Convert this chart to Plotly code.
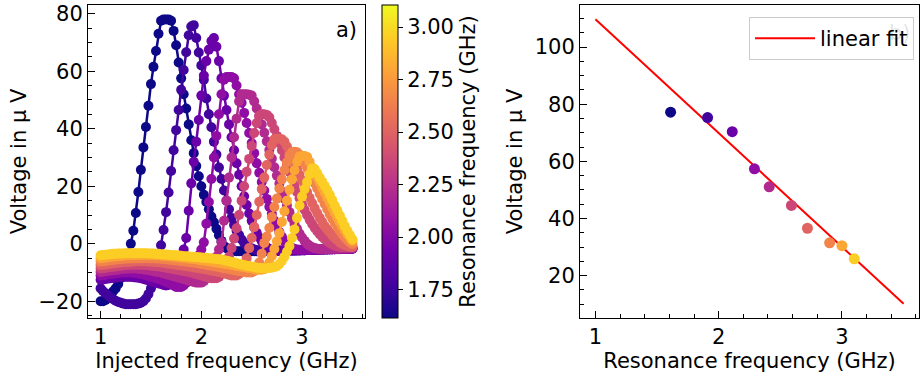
import plotly.graph_objects as go

# Injected-frequency sweep (GHz), 0.025 GHz steps
inj_freq = [1.000, 1.025, 1.050, 1.075, 1.100, 1.125, 1.150, 1.175, 1.200, 1.225,
            1.250, 1.275, 1.300, 1.325, 1.350, 1.375, 1.400, 1.425, 1.450, 1.475,
            1.500, 1.525, 1.550, 1.575, 1.600, 1.625, 1.650, 1.675, 1.700, 1.725,
            1.750, 1.775, 1.800, 1.825, 1.850, 1.875, 1.900, 1.925, 1.950, 1.975,
            2.000, 2.025, 2.050, 2.075, 2.100, 2.125, 2.150, 2.175, 2.200, 2.225,
            2.250, 2.275, 2.300, 2.325, 2.350, 2.375, 2.400, 2.425, 2.450, 2.475,
            2.500, 2.525, 2.550, 2.575, 2.600, 2.625, 2.650, 2.675, 2.700, 2.725,
            2.750, 2.775, 2.800, 2.825, 2.850, 2.875, 2.900, 2.925, 2.950, 2.975,
            3.000, 3.025, 3.050, 3.075, 3.100, 3.125, 3.150, 3.175, 3.200, 3.225,
            3.250, 3.275, 3.300, 3.325, 3.350, 3.375, 3.400, 3.425, 3.450, 3.475,
            3.500]

# Measured voltage (uV) for each resonance frequency
v_161 = [-20, -20, -19.5, -18.5, -17.5, -16.5, -15.5, -14, -12, -9.5,
         -6.5, -3.5, 0, 4.5, 10.7, 18, 25.7, 33.5, 40.6, 48,
         55.5, 61.5, 67, 73, 77.5, 78, 78, 78, 77.5, 74,
         69, 63, 57.5, 52, 47, 41.5, 36, 31.5, 27, 23.5,
         20, 17, 14.5, 12, 9.5, 7.5, 5.2, 3, 1, -0.8,
         -1.5, -2, -2.3, -2.5, -2.6, -2.6, -2.6, -2.6, -2.6, -2.6,
         -2.6, -2.6, -2.6, -2.6, -2.5, -2.5, -2.5, -2.5, -2.5, -2.5,
         -2.4, -2.4, -2.4, -2.4, -2.4, -2.3, -2.3, -2.3, -2.3, -2.3,
         -2.2, -2.2, -2.2, -2.2, -2.1, -2.1, -2.1, -2, -2, -2,
         -2, -1.9, -1.9, -1.9, -1.8, -1.8, -1.8, -1.7, -1.7, -1.7, -1.6]
v_191 = [-15.5, -16.5, -17.3, -18, -18.7, -19.3, -19.8, -20.2, -20.5, -20.8,
         -21, -21, -21, -21, -21, -20.8, -20.5, -20, -19, -17.5,
         -15.5, -13, -9.5, -5, -0.5, 4.8, 11, 17.8, 25.3, 32.5,
         39.5, 46.5, 53.5, 60.4, 66.6, 72.5, 75.5, 76, 71.5, 66.5,
         62, 57, 50.5, 45, 40.5, 35.5, 31, 26.5, 22.5, 18.5,
         15, 12, 9, 6.5, 4.5, 3, 1.5, 0.3, -0.6, -1.2,
         -1.6, -2, -2.2, -2.3, -2.4, -2.4, -2.4, -2.4, -2.4, -2.4,
         -2.3, -2.3, -2.3, -2.3, -2.3, -2.2, -2.2, -2.2, -2.2, -2.2,
         -2.1, -2.1, -2.1, -2.1, -2, -2, -2, -2, -1.9, -1.9,
         -1.9, -1.9, -1.8, -1.8, -1.8, -1.7, -1.7, -1.7, -1.6, -1.6, -1.6]
v_211 = [-12.5, -12.4, -12.2, -12.1, -12, -11.9, -11.8, -11.6, -11.5, -11.5,
         -11.5, -11.5, -11.5, -11.6, -11.7, -11.8, -12, -12.2, -12.5, -12.7,
         -13, -13.3, -13.5, -13.8, -14, -14.3, -14.5, -14.3, -14, -13,
         -11, -8, -5, -2, 2, 11.5, 21, 28.5, 35.5, 43,
         51.5, 58.5, 63.5, 67.5, 70.5, 71.5, 68.5, 63.5, 57.5, 51.5,
         46.5, 41.5, 37, 32.5, 28, 24, 20, 16.5, 13.5, 10.5,
         8, 5.7, 3.8, 2.2, 0.9, -0.3, -1.2, -1.8, -2.2, -2.4,
         -2.5, -2.5, -2.5, -2.5, -2.4, -2.4, -2.4, -2.4, -2.3, -2.3,
         -2.3, -2.3, -2.2, -2.2, -2.2, -2.2, -2.1, -2.1, -2.1, -2,
         -2, -2, -2, -1.9, -1.9, -1.9, -1.8, -1.8, -1.8, -1.7, -1.7]
v_229 = [-11, -10.9, -10.8, -10.6, -10.5, -10.4, -10.3, -10.2, -10, -10,
         -10, -10, -10, -10.1, -10.2, -10.3, -10.5, -10.7, -10.9, -11.2,
         -11.5, -11.7, -12, -12.2, -12.5, -12.9, -13.3, -13.6, -14, -14.5,
         -15, -15, -15, -14.5, -13.5, -12, -10, -8, -6, -4,
         -2, 0.5, 7, 14.5, 22.5, 30, 37.5, 45, 52, 57,
         58, 58, 58, 57.5, 55, 52, 49, 45.5, 42, 38.5,
         35, 31.5, 28, 24.7, 21.5, 18.5, 15.6, 12.9, 10.4, 8.1,
         6, 4.1, 2.4, 1, -0.1, -0.9, -1.4, -1.8, -2, -2.1,
         -2.1, -2.1, -2.1, -2.1, -2.1, -2, -2, -2, -2, -2,
         -1.9, -1.9, -1.9, -1.9, -1.8, -1.8, -1.8, -1.8, -1.7, -1.7, -1.7]
v_241 = [-9.8, -9.7, -9.5, -9.4, -9.3, -9.2, -9.1, -9, -8.8, -8.7,
         -8.7, -8.6, -8.6, -8.6, -8.6, -8.7, -8.8, -8.9, -9, -9.2,
         -9.3, -9.5, -9.7, -9.8, -10, -10.3, -10.5, -10.8, -11, -11.3,
         -11.5, -11.8, -12, -12.3, -12.5, -12.8, -13, -13.3, -13.5, -13.5,
         -13.5, -13, -12, -10.5, -8.5, -6.5, -4.5, -2, 0.5, 8,
         15, 23, 30, 37, 43.5, 49.5, 52, 52, 52, 51.8,
         51.5, 49.5, 47, 44.3, 41.5, 38.6, 35.6, 32.6, 29.6, 26.6,
         23.7, 20.9, 18.2, 15.7, 13.3, 11, 8.9, 7, 5.2, 3.6,
         2.2, 1, 0, -0.7, -1.2, -1.5, -1.7, -1.8, -1.8, -1.8,
         -1.8, -1.8, -1.7, -1.7, -1.7, -1.7, -1.6, -1.6, -1.6, -1.5, -1.5]
v_259 = [-8.6, -8.5, -8.3, -8.2, -8.1, -8, -7.9, -7.7, -7.6, -7.5,
         -7.4, -7.4, -7.3, -7.3, -7.3, -7.3, -7.3, -7.4, -7.4, -7.5,
         -7.6, -7.7, -7.8, -7.9, -8, -8.2, -8.3, -8.5, -8.6, -8.8,
         -9, -9.1, -9.3, -9.5, -9.6, -9.8, -10, -10.3, -10.5, -10.8,
         -11, -11.3, -11.5, -11.8, -12, -12, -12, -11.5, -10.5, -9,
         -7, -4.5, -1.5, 1.8, 5.4, 10, 15, 20, 25, 29.5,
         34, 38.5, 42, 44.5, 45, 45, 44.8, 44, 42, 39.8,
         37.5, 35, 32.5, 30, 27.5, 25, 22.6, 20.3, 18, 15.8,
         13.7, 11.8, 10, 8.4, 6.9, 5.6, 4.4, 3.3, 2.4, 1.6,
         0.9, 0.3, -0.2, -0.6, -0.9, -1.1, -1.2, -1.2, -1.2, -1.2, -1.2]
v_272 = [-7.4, -7.3, -7.2, -7, -6.9, -6.8, -6.7, -6.6, -6.5, -6.4,
         -6.3, -6.3, -6.2, -6.2, -6.1, -6.1, -6.1, -6.1, -6.1, -6.2,
         -6.2, -6.3, -6.3, -6.4, -6.5, -6.6, -6.8, -6.9, -7, -7.1,
         -7.3, -7.4, -7.5, -7.6, -7.8, -7.9, -8, -8.2, -8.3, -8.5,
         -8.6, -8.8, -8.9, -9.1, -9.3, -9.5, -9.6, -9.8, -10, -10.3,
         -10.5, -10.8, -11, -11, -11, -10.5, -9.5, -7.5, -5, -1.5,
         2, 5.8, 10, 14.6, 19, 23, 27.4, 31, 34.3, 36.3,
         36.5, 36.5, 36.3, 35.5, 33.8, 32, 30, 28, 26, 24,
         22, 20, 18, 16, 14.2, 12.4, 10.7, 9.1, 7.6, 6.2,
         5, 3.9, 2.9, 2, 1.2, 0.5, -0.1, -0.5, -0.8, -1, -1.1]
v_290 = [-6.2, -6.1, -6, -5.8, -5.7, -5.6, -5.5, -5.4, -5.3, -5.2,
         -5.2, -5.1, -5.1, -5.1, -5, -5, -5, -5, -5, -5,
         -5, -5, -5.1, -5.1, -5.2, -5.3, -5.4, -5.5, -5.6, -5.7,
         -5.8, -5.9, -6, -6.1, -6.2, -6.3, -6.4, -6.6, -6.7, -6.8,
         -7, -7.1, -7.3, -7.5, -7.6, -7.8, -7.9, -8.1, -8.3, -8.5,
         -8.6, -8.8, -9, -9.2, -9.3, -9.5, -9.6, -9.8, -10, -10,
         -10, -9.5, -8.5, -6.5, -3.5, 0.3, 2.5, 5.5, 9.3, 12.8,
         15.7, 19.2, 22.4, 25.6, 28.3, 30.7, 31.8, 32, 31.8, 31,
         29.5, 28, 26.3, 24.6, 22.8, 21, 19.2, 17.4, 15.6, 13.8,
         12, 10.3, 8.7, 7.2, 5.8, 4.5, 3.3, 2.2, 1.3, 0.5, -0.1]
v_300 = [-5, -4.9, -4.8, -4.6, -4.5, -4.4, -4.3, -4.2, -4.2, -4.1,
         -4.1, -4, -4, -4, -4, -3.9, -3.9, -3.9, -3.9, -3.9,
         -3.9, -3.9, -4, -4, -4.1, -4.2, -4.2, -4.3, -4.4, -4.5,
         -4.6, -4.7, -4.8, -4.9, -5, -5.1, -5.2, -5.3, -5.4, -5.6,
         -5.7, -5.8, -5.9, -6.1, -6.2, -6.3, -6.5, -6.6, -6.8, -6.9,
         -7.1, -7.2, -7.4, -7.5, -7.7, -7.8, -8, -8.1, -8.3, -8.4,
         -8.6, -8.8, -9, -9, -9, -8.8, -8, -6.5, -4.3, -1.8,
         0.9, 3.7, 7.6, 11.3, 15, 18.8, 22.4, 25.6, 28.5, 30.3,
         30.5, 30.5, 30.2, 28.5, 26.5, 24.8, 23, 21.3, 19.5, 17.8,
         16, 14.2, 12.5, 10.8, 9.1, 7.5, 6, 4.6, 3.3, 2.1, 1]
v_310 = [-4, -3.9, -3.8, -3.7, -3.6, -3.5, -3.5, -3.4, -3.4, -3.4,
         -3.3, -3.3, -3.3, -3.3, -3.3, -3.3, -3.3, -3.3, -3.3, -3.4,
         -3.4, -3.4, -3.5, -3.5, -3.6, -3.7, -3.7, -3.8, -3.9, -4,
         -4, -4.1, -4.2, -4.3, -4.3, -4.4, -4.5, -4.6, -4.6, -4.7,
         -4.8, -4.9, -4.9, -5, -5.1, -5.2, -5.3, -5.4, -5.5, -5.7,
         -5.9, -6.1, -6.3, -6.5, -6.8, -7, -7.2, -7.4, -7.6, -7.8,
         -7.9, -8.1, -8.3, -8.4, -8.5, -8.5, -8.5, -8.4, -8.3, -8.1,
         -7.8, -7, -6, -4.5, -2.8, -0.8, 2, 5, 9, 13.3,
         16.4, 19, 21.5, 24.2, 26.2, 26, 24.6, 23, 21.6, 20.2,
         18.7, 17, 15.2, 13.3, 11.6, 9.8, 8, 6.2, 4.5, 3, 1.6]

# Right panel: peak voltage vs resonance frequency, and the linear fit
res_freq = [1.61, 1.91, 2.11, 2.29, 2.41, 2.59, 2.72, 2.90, 3.00, 3.10]
peak_voltage = [77.2, 75.3, 70.4, 57.4, 51.1, 44.6, 36.6, 31.5, 30.5, 25.9]
fit_freq = [1.0, 3.5]
fit_voltage = [109.7, 10.2]

colorbar_ticks = [1.75, 2.00, 2.25, 2.50, 2.75, 3.00]

curves = [v_161, v_191, v_211, v_229, v_241, v_259, v_272, v_290, v_300, v_310]
colors = ["#0d0887", "#41049d", "#6a00a8", "#8f0da4", "#b12a90",
          "#cc4778", "#e16462", "#f2844b", "#fca636", "#fcce25"]

FONT = "DejaVu Sans"
FS = 21
W, H = 920, 378

def px_x(p):
    return p / W

def px_y(p):
    return 1 - p / H

fig = go.Figure()

for v, c in zip(curves, colors):
    fig.add_trace(go.Scatter(
        x=inj_freq, y=v, mode="lines+markers",
        line=dict(color=c, width=2.5),
        marker=dict(color=c, size=10, line=dict(width=0)),
        showlegend=False, hoverinfo="skip", xaxis="x", yaxis="y"))

# colour bar for resonance frequency
fig.add_trace(go.Scatter(
    x=[None], y=[None], mode="markers", showlegend=False, hoverinfo="skip",
    xaxis="x", yaxis="y",
    marker=dict(
        color=[res_freq[0]], colorscale="Plasma",
        cmin=1.615, cmax=3.105, showscale=True,
        colorbar=dict(
            x=px_x(382), xanchor="left", xpad=0,
            y=px_y(161.5), yanchor="middle", ypad=0,
            len=313 / H, lenmode="fraction",
            thickness=16, thicknessmode="pixels",
            outlinewidth=1, outlinecolor="black",
            tickvals=colorbar_ticks, tickformat=".2f",
            ticks="outside", ticklen=5, tickwidth=1, tickcolor="black",
            tickfont=dict(size=FS, family=FONT, color="black"),
            title=dict(text="Resonance frequency (GHz)", side="right",
                       font=dict(size=FS, family=FONT, color="black")),
        ))))

fig.add_trace(go.Scatter(
    x=fit_freq, y=fit_voltage, mode="lines", name="linear fit",
    line=dict(color="red", width=2), xaxis="x2", yaxis="y2", hoverinfo="skip"))

fig.add_trace(go.Scatter(
    x=res_freq, y=peak_voltage, mode="markers", showlegend=False,
    marker=dict(color=colors, size=11, line=dict(width=0)),
    xaxis="x2", yaxis="y2", hoverinfo="skip"))

axis_common = dict(
    showline=True, linecolor="black", linewidth=1, mirror=True,
    showgrid=False, zeroline=False, automargin=False,
    ticks="inside", ticklen=7, tickwidth=1, tickcolor="black",
    tickfont=dict(size=FS, family=FONT, color="black"),
)

ydom = [px_y(318), px_y(5)]

fig.update_layout(
    width=W, height=H,
    margin=dict(l=0, r=0, t=0, b=0, autoexpand=False),
    paper_bgcolor="white", plot_bgcolor="white",
    font=dict(family=FONT, size=FS, color="black"),
    xaxis=dict(domain=[px_x(88), px_x(365)], anchor="y", range=[0.875, 3.625],
               tickvals=[1, 2, 3],
               minor=dict(dtick=0.2, tick0=0, ticks="inside", ticklen=4, tickcolor="black"),
               title=dict(text="Injected frequency (GHz)", standoff=2,
                          font=dict(size=FS, family=FONT, color="black")),
               **axis_common),
    yaxis=dict(domain=ydom, anchor="x", range=[-25.8, 83],
               tickvals=[-20, 0, 20, 40, 60, 80],
               minor=dict(dtick=5, tick0=0, ticks="inside", ticklen=4, tickcolor="black"),
               title=dict(text="Voltage in μ V", standoff=6,
                          font=dict(size=FS, family=FONT, color="black")),
               **axis_common),
    xaxis2=dict(domain=[px_x(580), px_x(919)], anchor="y2", range=[0.875, 3.625],
                tickvals=[1, 2, 3],
                minor=dict(dtick=0.2, tick0=0, ticks="inside", ticklen=4, tickcolor="black"),
                title=dict(text="Resonance frequency (GHz)", standoff=2,
                           font=dict(size=FS, family=FONT, color="black")),
                **axis_common),
    yaxis2=dict(domain=ydom, anchor="x2", range=[5.2, 114.7],
                tickvals=[20, 40, 60, 80, 100],
                minor=dict(dtick=5, tick0=0, ticks="inside", ticklen=4, tickcolor="black"),
                title=dict(text="Voltage in μ V", standoff=6,
                           font=dict(size=FS, family=FONT, color="black")),
                **axis_common),
    legend=dict(x=px_x(914), y=px_y(17), xanchor="right", yanchor="top",
                itemwidth=60,
                bgcolor="rgba(255,255,255,0.8)", bordercolor="#cccccc", borderwidth=1,
                font=dict(size=FS, family=FONT, color="black")),
    annotations=[
        dict(text="a)", x=px_x(346), y=px_y(30), xref="paper", yref="paper",
             xanchor="center", yanchor="middle", showarrow=False,
             font=dict(size=FS, family=FONT, color="black")),
        dict(text="b)", x=px_x(900), y=px_y(33), xref="paper", yref="paper",
             xanchor="center", yanchor="middle", showarrow=False,
             font=dict(size=FS, family=FONT, color="rgba(0,0,0,0.12)")),
    ],
)

fig.write_html("out.html", config={"displayModeBar": False},
               post_script="document.body.style.margin='0';document.body.style.padding='0';")
